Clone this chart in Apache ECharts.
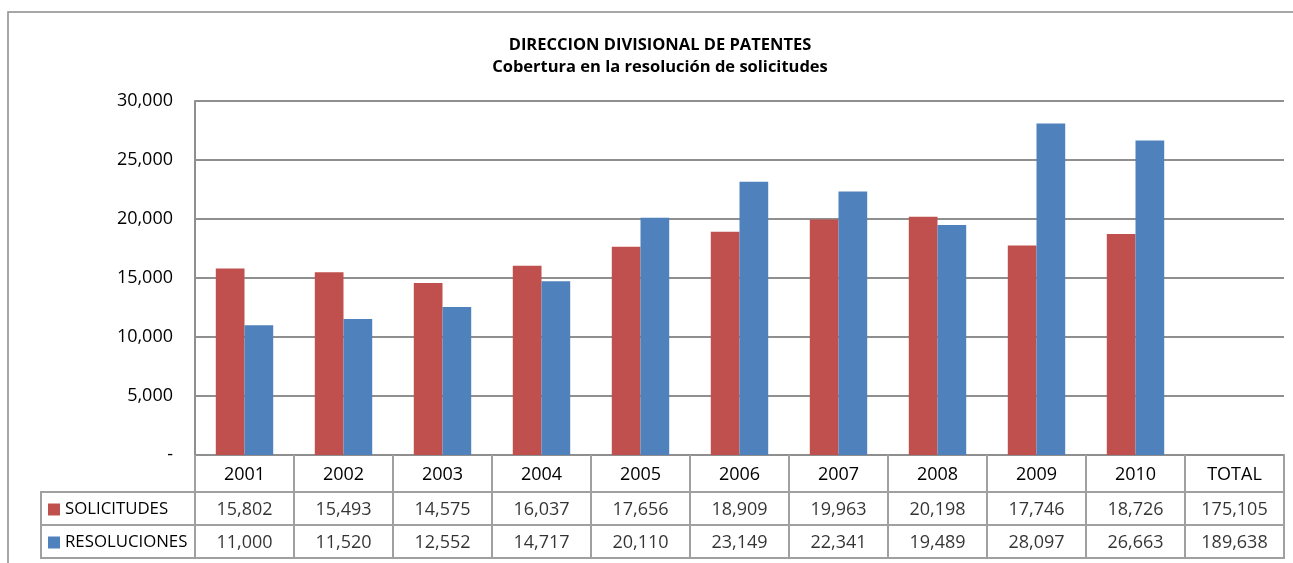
<!DOCTYPE html>
<html>
<head>
<meta charset="utf-8">
<script src="https://cdn.jsdelivr.net/npm/echarts@6/dist/echarts.min.js"></script>
<style>
  html, body { margin: 0; padding: 0; background: #fff; }
  #chart { width: 1293px; height: 563px; }
</style>
</head>
<body>
<div id="chart"></div>
<script>
// datos
const years = ['2001', '2002', '2003', '2004', '2005', '2006', '2007', '2008', '2009', '2010', 'TOTAL'];
const solicitudes = [15802, 15493, 14575, 16037, 17656, 18909, 19963, 20198, 17746, 18726];
const resoluciones = [11000, 11520, 12552, 14717, 20110, 23149, 22341, 19489, 28097, 26663];
const totalSolicitudes = 175105;
const totalResoluciones = 189638;
const seriesNames = ['SOLICITUDES', 'RESOLUCIONES'];

const FONT = '"Open Sans", sans-serif';
const GRID_COLOR = '#8f8f8f';
const TABLE_COLOR = '#a0a0a0';

function fmt(v) {
    return v.toLocaleString('en-US');
}

// filas de la tabla (valores anuales + total)
const tableRows = [
    solicitudes.concat([totalSolicitudes]),
    resoluciones.concat([totalResoluciones])
];
const tableCells = [];
tableRows.forEach((row, r) => {
    row.forEach((v, c) => tableCells.push([c, r, v]));
});

let chartObj = echarts.init(document.getElementById('chart'));

let options = {
    animation: false,
    title: {
        text: 'DIRECCION DIVISIONAL DE PATENTES\nCobertura en la resolución de solicitudes',
        left: 655,
        top: 29,
        textAlign: 'center',
        textStyle: {
            fontFamily: FONT,
            fontSize: 16.5,
            fontWeight: 'bold',
            color: '#000',
            lineHeight: 22
        }
    },
    legend: {
        orient: 'vertical',
        left: 48,
        top: 501,
        padding: 0,
        itemWidth: 12,
        itemHeight: 12,
        itemGap: 16,
        icon: 'rect',
        data: seriesNames,
        textStyle: { fontFamily: FONT, fontSize: 16.8, color: '#000' }
    },
    grid: [
        { left: 195, right: 9, top: 101, bottom: 108 },
        { left: 195, right: 9, top: 492, bottom: 5, show: true, borderColor: TABLE_COLOR, borderWidth: 2 }
    ],
    xAxis: [
        {
            type: 'category',
            gridIndex: 0,
            data: years,
            axisLine: { lineStyle: { color: GRID_COLOR, width: 2 } },
            axisTick: { show: true, length: 37, interval: 0, lineStyle: { color: TABLE_COLOR, width: 2 } },
            axisLabel: { interval: 0, margin: 11, fontFamily: FONT, fontSize: 18, color: '#000' }
        },
        {
            type: 'category',
            gridIndex: 1,
            data: years,
            axisLine: { show: false },
            axisTick: { show: false },
            axisLabel: { show: false },
            splitLine: { show: true, interval: 0, lineStyle: { color: TABLE_COLOR, width: 2 } }
        }
    ],
    yAxis: [
        {
            type: 'value',
            gridIndex: 0,
            min: 0,
            max: 30000,
            interval: 5000,
            axisLine: { show: true, lineStyle: { color: GRID_COLOR, width: 2 } },
            axisTick: { show: false },
            splitLine: { lineStyle: { color: GRID_COLOR, width: 2 } },
            axisLabel: {
                margin: 22,
                fontFamily: FONT,
                fontSize: 18,
                color: '#000',
                formatter: v => (v === 0 ? '-' : fmt(v))
            }
        },
        {
            type: 'category',
            gridIndex: 1,
            inverse: true,
            data: seriesNames,
            axisLine: { show: false },
            axisTick: { show: false },
            axisLabel: { show: false },
            splitLine: { show: true, interval: 0, lineStyle: { color: TABLE_COLOR, width: 2 } }
        }
    ],
    series: [
        {
            name: seriesNames[0],
            type: 'bar',
            xAxisIndex: 0,
            yAxisIndex: 0,
            barGap: '0%',
            barCategoryGap: '42%',
            itemStyle: { color: '#C0504D' },
            data: solicitudes.concat([null])
        },
        {
            name: seriesNames[1],
            type: 'bar',
            xAxisIndex: 0,
            yAxisIndex: 0,
            itemStyle: { color: '#4F81BD' },
            data: resoluciones.concat([null])
        },
        {
            // celdas de la tabla de datos
            type: 'scatter',
            xAxisIndex: 1,
            yAxisIndex: 1,
            symbolSize: 0,
            silent: true,
            label: {
                show: true,
                position: 'inside',
                fontFamily: FONT,
                fontSize: 18,
                color: '#000',
                offset: [0, 1],
                formatter: p => fmt(p.value[2])
            },
            data: tableCells
        }
    ],
    graphic: [
        {
            // marco exterior
            type: 'rect',
            shape: { x: 8, y: 12, width: 1300, height: 560 },
            style: { fill: null, stroke: '#8a8a8a', lineWidth: 1.5 },
            silent: true
        },
        {
            // celdas de la leyenda
            type: 'rect',
            shape: { x: 41, y: 492, width: 154, height: 66 },
            style: { fill: null, stroke: TABLE_COLOR, lineWidth: 2 },
            silent: true
        },
        {
            type: 'line',
            shape: { x1: 41, y1: 525, x2: 195, y2: 525 },
            style: { stroke: TABLE_COLOR, lineWidth: 2 },
            silent: true
        }
    ]
};

chartObj.setOption(options);
</script>
</body>
</html>
